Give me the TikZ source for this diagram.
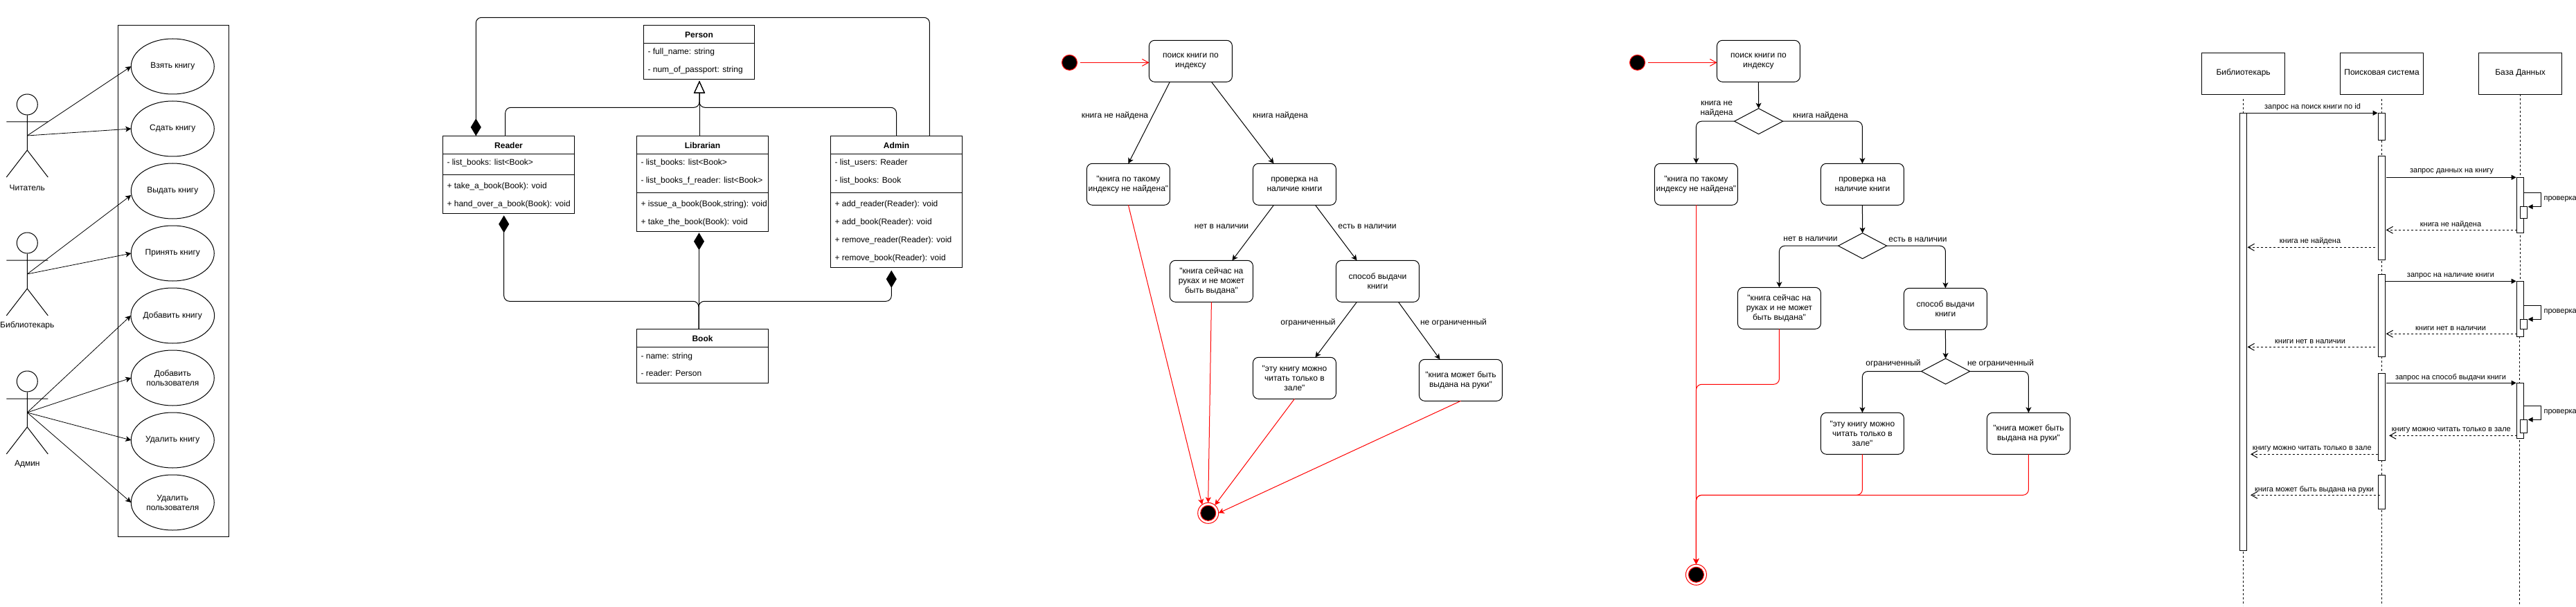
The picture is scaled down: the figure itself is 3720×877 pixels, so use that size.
\documentclass[tikz,border=0pt]{standalone}
\usepackage{fontspec}
\setmainfont[Ligatures=TeXOff]{Liberation Sans}
\usetikzlibrary{positioning,shapes.geometric,arrows.meta}

\begin{document}
\begin{tikzpicture}[x=1pt, y=-1pt, line width=1pt, >={Stealth[length=8pt,width=8pt,inset=2pt]}]

    \useasboundingbox (0,0) rectangle (3720,877);

    %
    % Styles for all four diagrams
    %
    \tikzstyle{textBig} = [inner sep=0pt, align=center, font={\fontsize{12}{14}\selectfont}];
    \tikzstyle{textSmall} = [inner sep=0pt, align=center, font={\fontsize{11}{13}\selectfont}];
    \tikzstyle{usecase} = [textBig, draw, ellipse, minimum width=120pt, minimum height=80pt, outer sep=0pt];
    \tikzstyle{actorHead} = [draw, ellipse, minimum width=30pt, minimum height=30pt, inner sep=0pt];
    \tikzstyle{useArrow} = [->, line width=0.8pt];
    \tikzstyle{classBox} = [draw, rectangle, anchor=north west, inner sep=0pt, outer sep=0pt];
    \tikzstyle{classHead} = [textBig, font={\fontsize{12}{14}\selectfont\bfseries}];
    \tikzstyle{classRow} = [textBig, anchor=west, text height=9pt, text depth=3pt];
    \tikzstyle{inherit} = [-{Triangle[open,length=18pt,width=16pt]}, rounded corners=8pt, fill=white];
    \tikzstyle{compose} = [{Diamond[length=25pt,width=15pt]}-, rounded corners=8pt];
    \tikzstyle{stateBox} = [textBig, draw, rectangle, rounded corners=8pt, minimum width=120pt, minimum height=60pt, outer sep=0pt];
    \tikzstyle{decide} = [draw, diamond, minimum width=70pt, minimum height=37pt, inner sep=0pt, outer sep=0pt];
    \tikzstyle{flow} = [->];
    \tikzstyle{flowBend} = [->, rounded corners=8pt];
    \tikzstyle{flowRed} = [->, red, rounded corners=8pt];
    \tikzstyle{openRed} = [-{Straight Barb[length=9pt,width=10pt]}, red];
    \tikzstyle{startDot} = [draw=red, fill=black, circle, minimum size=22pt, inner sep=0pt, outer sep=0pt];
    \tikzstyle{endRing} = [draw=red, fill=white, circle, minimum size=30pt, inner sep=0pt, outer sep=0pt];
    \tikzstyle{endDot} = [draw=red, fill=black, circle, minimum size=22pt, inner sep=0pt];
    \tikzstyle{partBox} = [textBig, draw, rectangle, minimum width=120pt, minimum height=60pt, outer sep=0pt, text height=8.5pt, text depth=3.3pt];
    \tikzstyle{lifeline} = [dashed, dash pattern=on 3pt off 3pt];
    \tikzstyle{execBar} = [draw, fill=white, rectangle, anchor=north west, minimum width=10pt, inner sep=0pt, outer sep=0pt];
    \tikzstyle{callMsg} = [-{Triangle[length=7pt,width=7pt]}];
    \tikzstyle{replyMsg} = [-{Straight Barb[length=9pt,width=10pt]}, lifeline];

    %
    % Use cases
    %
    \node[draw, rectangle, anchor=north west, minimum width=160pt, minimum height=739pt, inner sep=0pt, name=system] at (169.5,36.4) {};
    \node[usecase, name=takeBook] at (249.3,96) {Взять книгу};
    \node[usecase, name=returnBook] at (249.3,186) {Сдать книгу};
    \node[usecase, name=issueBook] at (249.3,276) {Выдать книгу};
    \node[usecase, name=acceptBook] at (249.3,366) {Принять книгу};
    \node[usecase, name=addBook] at (249.3,456) {Добавить книгу};
    \node[usecase, name=addUser] at (249.3,546) {Добавить\\пользователя};
    \node[usecase, name=delBook] at (249.3,636) {Удалить книгу};
    \node[usecase, name=delUser] at (249.3,726) {Удалить\\пользователя};

    \node[actorHead, name=readerHead] at (39.3,151) {};
    \coordinate (readerHub) at (39.3,196);
    \draw (readerHead.south) -- (39.3,217) -- (9.3,256) (39.3,217) -- (69.3,256) (9.3,176) -- (69.3,176);
    \node[textBig, name=readerName] at (39.3,271) {Читатель};

    \node[actorHead, name=libHead] at (39.3,351) {};
    \coordinate (libHub) at (39.3,396);
    \draw (libHead.south) -- (39.3,417) -- (9.3,456) (39.3,417) -- (69.3,456) (9.3,376) -- (69.3,376);
    \node[textBig, name=libName] at (39.3,470.5) {Библиотекарь};

    \node[actorHead, name=adminHead] at (39.3,551) {};
    \coordinate (adminHub) at (39.3,596);
    \draw (adminHead.south) -- (39.3,617) -- (9.3,656) (39.3,617) -- (69.3,656) (9.3,576) -- (69.3,576);
    \node[textBig, name=adminName] at (39.3,670.5) {Админ};

    \draw[useArrow] (readerHub) -- (takeBook.west);
    \draw[useArrow] (readerHub) -- (returnBook.west);
    \draw[useArrow] (libHub) -- ([yshift=-6pt]issueBook.west);
    \draw[useArrow] (libHub) -- (acceptBook.west);
    \draw[useArrow] (adminHub) -- (addBook.west);
    \draw[useArrow] (adminHub) -- (addUser.west);
    \draw[useArrow] (adminHub) -- (delBook.west);
    \draw[useArrow] (adminHub) -- (delUser.west);

    %
    % Classes
    %
    \node[classBox, minimum width=160pt, minimum height=78pt, name=person] at (929.5,36.3) {};
    \node[classHead, name=personHead] at (1009.5,50.7) {Person};
    \draw (person.west |- 0,62.3) -- (person.east |- 0,62.3);
    \node[classRow, name=personRowA] at (935,76) {- full\_name: string};
    \node[classRow, name=personRowB] at (935,102) {- num\_of\_passport: string};

    \node[classBox, minimum width=190pt, minimum height=112pt, name=reader] at (639.5,196.3) {};
    \node[classHead, name=readerTitle] at (734.5,210.7) {Reader};
    \draw (reader.west |- 0,222.3) -- (reader.east |- 0,222.3);
    \draw (reader.west |- 0,252.3) -- (reader.east |- 0,252.3);
    \node[classRow, name=readerRowA] at (645,235.7) {- list\_books: list<Book>};
    \node[classRow, name=readerRowB] at (645,269.7) {+ take\_a\_book(Book): void};
    \node[classRow, name=readerRowC] at (645,295.7) {+ hand\_over\_a\_book(Book): void};

    \node[classBox, minimum width=190pt, minimum height=138pt, name=librarian] at (919.5,196.3) {};
    \node[classHead, name=librarianTitle] at (1014.5,210.7) {Librarian};
    \draw (librarian.west |- 0,222.3) -- (librarian.east |- 0,222.3);
    \draw (librarian.west |- 0,278.3) -- (librarian.east |- 0,278.3);
    \node[classRow, name=librarianRowA] at (925,235.7) {- list\_books: list<Book>};
    \node[classRow, name=librarianRowB] at (925,261.7) {- list\_books\_f\_reader: list<Book>};
    \node[classRow, name=librarianRowC] at (925,295.7) {+ issue\_a\_book(Book,string): void};
    \node[classRow, name=librarianRowD] at (925,321.7) {+ take\_the\_book(Book): void};

    \node[classBox, minimum width=190pt, minimum height=190pt, name=admin] at (1199.5,196.3) {};
    \node[classHead, name=adminTitle] at (1294.5,210.7) {Admin};
    \draw (admin.west |- 0,222.3) -- (admin.east |- 0,222.3);
    \draw (admin.west |- 0,278.3) -- (admin.east |- 0,278.3);
    \node[classRow, name=adminRowA] at (1205,235.7) {- list\_users: Reader};
    \node[classRow, name=adminRowB] at (1205,261.7) {- list\_books: Book};
    \node[classRow, name=adminRowC] at (1205,295.7) {+ add\_reader(Reader): void};
    \node[classRow, name=adminRowD] at (1205,321.7) {+ add\_book(Reader): void};
    \node[classRow, name=adminRowE] at (1205,347.7) {+ remove\_reader(Reader): void};
    \node[classRow, name=adminRowF] at (1205,373.7) {+ remove\_book(Reader): void};

    \node[classBox, minimum width=190pt, minimum height=78pt, name=book] at (919.5,475.3) {};
    \node[classHead, name=bookTitle] at (1014.5,489.7) {Book};
    \draw (book.west |- 0,501.3) -- (book.east |- 0,501.3);
    \node[classRow, name=bookRowA] at (925,515) {- name: string};
    \node[classRow, name=bookRowB] at (925,540.7) {- reader: Person};

    \coordinate (inheritJoin) at (1010,155.3);
    \coordinate (adminTop) at (1342.4,25.3);
    \coordinate (bookJoin) at (1009,435.3);

    \draw[inherit, shorten >=2.4pt] ([xshift=-4.8pt]reader.north) |- (inheritJoin) -- ([xshift=0.5pt]person.south);
    \draw[inherit, shorten >=2.4pt] (admin.north) |- (inheritJoin) -- ([xshift=0.5pt]person.south);
    \draw[inherit, shorten >=2.4pt] ([xshift=-4.5pt]librarian.north) -- ([xshift=0.5pt]person.south);

    \draw[compose] ([xshift=-47.2pt]reader.north) |- (adminTop) -- ([xshift=47.9pt]admin.north);
    \draw[compose, shorten <=3pt] ([xshift=-6.8pt]reader.south) |- (bookJoin) -- ([xshift=-5.5pt]book.north);
    \draw[compose, shorten <=2pt] ([xshift=-5pt]librarian.south) -- ([xshift=-5pt]book.north);
    \draw[compose, shorten <=4.4pt] ([xshift=-7.2pt]admin.south) |- (bookJoin) -- ([xshift=-5.5pt]book.north);

    %
    % First activity diagram
    %
    \node[startDot, name=startA] at (1544.5,90.4) {};
    \node[stateBox, name=searchA] at (1719.4,88.3) {поиск книги по\\индексу};
    \node[stateBox, name=notFoundA] at (1629.4,266.3) {"книга по такому\\индексу не найдена"};
    \node[stateBox, name=checkA] at (1869.4,266.3) {проверка на\\наличие книги};
    \node[stateBox, name=holdA] at (1749.4,406.3) {"книга сейчас на\\руках и не может\\быть выдана"};
    \node[stateBox, name=modeA] at (1989.4,406.3) {способ выдачи\\книги};
    \node[stateBox, name=hallA] at (1869.4,546.3) {"эту книгу можно\\читать только в\\зале"};
    \node[stateBox, name=handsA] at (2109.4,549.3) {"книга может быть\\выдана на руки"};
    \node[endRing, name=endA] at (1744.7,741.3) {};
    \node[endDot, name=endDotA] at (1744.7,741.3) {};

    \node[textBig, name=labelA] at (1610,167) {книга не найдена};
    \node[textBig, name=labelB] at (1849,167) {книга найдена};
    \node[textBig, name=labelC] at (1764,327) {нет в наличии};
    \node[textBig, name=labelD] at (1974.5,327) {есть в наличии};
    \node[textBig, name=labelE] at (1889,466.7) {ограниченный};
    \node[textBig, name=labelF] at (2099,466) {не ограниченный};

    \draw[openRed, shorten <=4pt] (startA.east) -- (searchA.west |- startA.east);
    \draw[flow] ([xshift=-30pt]searchA.south) -- (notFoundA.north);
    \draw[flow] ([xshift=30pt]searchA.south) -- ([xshift=-30pt]checkA.north);
    \draw[flow] ([xshift=-30pt]checkA.south) -- ([xshift=30pt]holdA.north);
    \draw[flow] ([xshift=30pt]checkA.south) -- ([xshift=-30pt]modeA.north);
    \draw[flow] ([xshift=-30pt]modeA.south) -- ([xshift=30pt]hallA.north);
    \draw[flow] ([xshift=30pt]modeA.south) -- ([xshift=-30pt]handsA.north);
    \draw[flowRed] (notFoundA.south) -- (endA.125);
    \draw[flowRed] (holdA.south) -- (endA.north);
    \draw[flowRed] (hallA.south) -- (endA.50);
    \draw[flowRed] (handsA.south) -- (endA.east);

    %
    % Second activity diagram
    %
    \node[startDot, name=startB] at (2364.5,90.4) {};
    \node[stateBox, name=searchB] at (2539.4,88.3) {поиск книги по\\индексу};
    \node[decide, name=decideA] at (2539.6,175.2) {};
    \node[stateBox, name=notFoundB] at (2449.4,266.3) {"книга по такому\\индексу не найдена"};
    \node[stateBox, name=checkB] at (2689.4,266.3) {проверка на\\наличие книги};
    \node[decide, name=decideB] at (2689.6,355.2) {};
    \node[stateBox, name=holdB] at (2569.4,445.3) {"книга сейчас на\\руках и не может\\быть выдана"};
    \node[stateBox, name=modeB] at (2809.4,446.3) {способ выдачи\\книги};
    \node[decide, name=decideC] at (2809.6,536.5) {};
    \node[stateBox, name=hallB] at (2689.4,626.3) {"эту книгу можно\\читать только в\\зале"};
    \node[stateBox, name=handsB] at (2929.4,626.3) {"книга может быть\\выдана на руки"};
    \node[endRing, name=endB] at (2449.4,830.3) {};
    \node[endDot, name=endDotB] at (2449.4,830.3) {};

    \node[textBig, name=labelG] at (2479,157) {книга не\\найдена};
    \node[textBig, name=labelH] at (2629,167) {книга найдена};
    \node[textBig, name=labelI] at (2614.5,345) {нет в наличии};
    \node[textBig, name=labelJ] at (2769.5,346) {есть в наличии};
    \node[textBig, name=labelK] at (2734,525) {ограниченный};
    \node[textBig, name=labelL] at (2889,525) {не ограниченный};

    \coordinate (mergeA) at (2449.4,555.3);
    \coordinate (mergeB) at (2449.4,715.3);

    \draw[openRed, shorten <=4pt] (startB.east) -- (searchB.west |- startB.east);
    \draw[flow] (searchB.south) -- (decideA.north);
    \draw[flowBend] (decideA.west) -| (notFoundB.north);
    \draw[flowBend] (decideA.east) -| (checkB.north);
    \draw[flow] (checkB.south) -- (decideB.north);
    \draw[flowBend] (decideB.west) -| (holdB.north);
    \draw[flowBend] (decideB.east) -| (modeB.north);
    \draw[flow] (modeB.south) -- (decideC.north);
    \draw[flowBend] (decideC.west) -| (hallB.north);
    \draw[flowBend] (decideC.east) -| (handsB.north);
    \draw[flowRed] (notFoundB.south) -- (endB.north);
    \draw[flowRed] (holdB.south) |- (mergeA) -- (endB.north);
    \draw[flowRed] (hallB.south) |- (mergeB) -- (endB.north);
    \draw[flowRed] (handsB.south) |- (mergeB) -- (endB.north);

    %
    % Sequence diagram
    %
    \node[partBox, name=partLib] at (3239.6,106.3) {Библиотекарь};
    \node[partBox, name=partSearch] at (3439.6,106.3) {Поисковая система};
    \node[partBox, name=partBase] at (3639.6,106.3) {База Данных};

    \draw[lifeline] (3239.6,143) -- (3239.6,875);
    \draw[lifeline] (3439.6,143) -- (3439.6,875);
    \draw[lifeline] (partBase.south) -- (3639.6,420);
    \draw[lifeline] (3638.5,486) -- (3638.5,875);

    \node[execBar, minimum height=632.4pt, name=execLib] at (3234.5,163.3) {};
    \node[execBar, minimum height=39pt, name=execA] at (3434.6,163.3) {};
    \node[execBar, minimum height=150pt, name=execB] at (3434.6,225.3) {};
    \node[execBar, minimum height=118.6pt, name=execC] at (3434.6,396.7) {};
    \node[execBar, minimum height=126.4pt, name=execD] at (3434.6,539.3) {};
    \node[execBar, minimum height=49.4pt, name=execE] at (3434.6,686.3) {};
    \node[execBar, minimum height=80pt, name=execF] at (3634.7,256.3) {};
    \node[execBar, minimum height=80pt, name=execG] at (3634.7,406.3) {};
    \node[execBar, minimum height=80pt, name=execH] at (3634.7,553.3) {};
    \node[execBar, minimum height=16.6pt, name=execFin] at (3639.6,298.7) {};
    \node[execBar, minimum height=14pt, name=execGin] at (3639.6,461.3) {};
    \node[execBar, minimum height=19pt, name=execHin] at (3639.6,606.3) {};

    \draw[callMsg, shorten >=1pt] (execLib.north east) -- (execA.north west);
    \draw[callMsg, shorten <=1.5pt, shorten >=1pt] (execB.east |- execF.north) -- (execF.north west);
    \draw[callMsg, shorten >=1pt] (execC.east |- execG.north) -- (execG.north west);
    \draw[callMsg, shorten <=1.5pt, shorten >=1pt] (execD.east |- execH.north) -- (execH.north west);

    \node[textSmall, name=msgA] at (3339.5,154.3) {запрос на поиск книги по id};
    \node[textSmall, name=msgB] at (3540.5,248) {запрос данных на книгу};
    \node[textSmall, name=msgC] at (3539,398.3) {запрос на наличие книги};
    \node[textSmall, name=msgD] at (3539,545.3) {запрос на способ выдачи книги};
    \node[textSmall, name=msgE] at (3539,324.3) {книга не найдена};
    \node[textSmall, name=msgF] at (3336,349) {книга не найдена};
    \node[textSmall, name=msgG] at (3539,474.3) {книги нет в наличии};
    \node[textSmall, name=msgH] at (3336,493.3) {книги нет в наличии};
    \node[textSmall, name=msgI] at (3539.8,621.3) {книгу можно читать только в зале};
    \node[textSmall, name=msgJ] at (3338.7,648.3) {книгу можно читать только в зале};
    \node[textSmall, name=msgK] at (3342,707.3) {книга может быть выдана на руки};

    \draw[replyMsg, shorten >=1pt] (execF.west |- 0,332.3) -- (execB.east |- 0,332.3);
    \draw[replyMsg, shorten <=4.5pt, shorten >=1pt] (execB.west |- 0,357.3) -- (execLib.east |- 0,357.3);
    \draw[replyMsg, shorten >=1pt] (execG.west |- 0,482.3) -- (execC.east |- 0,482.3);
    \draw[replyMsg, shorten <=4.5pt, shorten >=1pt] (execC.west |- 0,501.3) -- (execLib.east |- 0,501.3);
    \draw[replyMsg, shorten >=5.5pt] (execH.west |- 0,629.3) -- (execD.east |- 0,629.3);
    \draw[replyMsg, shorten <=1pt, shorten >=5.5pt] (execD.west |- 0,656.3) -- (execLib.east |- 0,656.3);
    \draw[replyMsg, shorten <=-2pt, shorten >=5.5pt] (execE.west |- 0,715.3) -- (execLib.east |- 0,715.3);

    \draw[callMsg, shorten >=1pt] (execF.east |- 0,278.3) -- (3669.6,278.3) |- (execFin.north east);
    \draw[callMsg, shorten >=1pt] (execG.east |- 0,441.3) -- (3669.6,441.3) |- (execGin.north east);
    \draw[callMsg, shorten >=1pt] (execH.east |- 0,586.3) -- (3669.6,586.3) |- (execHin.north east);

    \node[textSmall, anchor=west, name=loopA] at (3673,287.3) {проверка};
    \node[textSmall, anchor=west, name=loopB] at (3673,450.3) {проверка};
    \node[textSmall, anchor=west, name=loopC] at (3673,595.7) {проверка};

\end{tikzpicture}
\end{document}
